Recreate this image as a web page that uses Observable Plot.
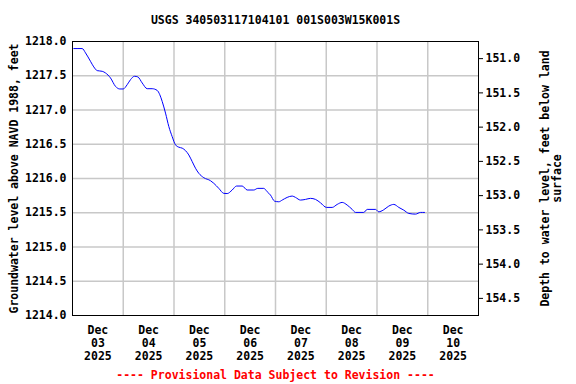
<!DOCTYPE html>
<html><head><meta charset="utf-8">
<script src="https://cdn.jsdelivr.net/npm/d3@7"></script>
<script src="https://cdn.jsdelivr.net/npm/@observablehq/plot@0.6"></script>
<style>body{margin:0;background:#fff}</style>
</head><body><div id="chart"></div>
<script>
const titleText = "USGS 340503117104101 001S003W15K001S";
const captionText = "---- Provisional Data Subject to Revision ----";
const leftLabel = "Groundwater level above NAVD 1988, feet";
const rightLabel = "Depth to water level, feet below land\nsurface";

const times = [
  "2025-12-03T00:37Z","2025-12-03T04:35Z","2025-12-03T06:09Z","2025-12-03T08:30Z","2025-12-03T10:04Z",
  "2025-12-03T11:41Z","2025-12-03T14:03Z","2025-12-03T15:36Z","2025-12-03T17:58Z","2025-12-03T20:20Z",
  "2025-12-03T22:22Z","2025-12-03T23:59Z","2025-12-04T01:52Z","2025-12-04T03:26Z","2025-12-04T05:19Z",
  "2025-12-04T06:53Z","2025-12-04T08:57Z","2025-12-04T11:19Z","2025-12-04T13:41Z","2025-12-04T16:03Z",
  "2025-12-04T17:17Z","2025-12-04T18:25Z","2025-12-04T19:59Z","2025-12-04T21:33Z","2025-12-04T23:08Z",
  "2025-12-05T00:43Z","2025-12-05T02:17Z","2025-12-05T03:53Z","2025-12-05T05:26Z","2025-12-05T07:00Z",
  "2025-12-05T08:37Z","2025-12-05T10:10Z","2025-12-05T11:44Z","2025-12-05T14:05Z","2025-12-05T17:15Z",
  "2025-12-05T18:49Z","2025-12-05T21:11Z","2025-12-05T23:33Z","2025-12-06T01:09Z","2025-12-06T03:31Z",
  "2025-12-06T05:34Z","2025-12-06T08:15Z","2025-12-06T10:37Z","2025-12-06T13:44Z","2025-12-06T15:37Z",
  "2025-12-06T18:27Z","2025-12-06T20:04Z","2025-12-06T21:38Z","2025-12-06T23:31Z","2025-12-07T01:34Z",
  "2025-12-07T03:10Z","2025-12-07T05:31Z","2025-12-07T07:54Z","2025-12-07T09:27Z","2025-12-07T11:50Z",
  "2025-12-07T14:11Z","2025-12-07T16:33Z","2025-12-07T18:55Z","2025-12-07T21:17Z","2025-12-08T00:07Z",
  "2025-12-08T02:49Z","2025-12-08T05:11Z","2025-12-08T07:32Z","2025-12-08T09:54Z","2025-12-08T12:16Z",
  "2025-12-08T13:50Z","2025-12-08T17:45Z","2025-12-08T19:22Z","2025-12-08T23:17Z","2025-12-09T00:50Z",
  "2025-12-09T02:56Z","2025-12-09T05:34Z","2025-12-09T07:57Z","2025-12-09T10:19Z","2025-12-09T12:40Z",
  "2025-12-09T15:03Z","2025-12-09T18:13Z","2025-12-09T20:34Z","2025-12-09T22:28Z"
];
const levels = [
  1217.897,1217.897,1217.834,1217.711,1217.629,
  1217.575,1217.565,1217.541,1217.468,1217.345,
  1217.307,1217.307,1217.370,1217.443,1217.492,
  1217.483,1217.395,1217.311,1217.311,1217.286,
  1217.223,1217.125,1216.955,1216.759,1216.612,
  1216.491,1216.457,1216.443,1216.407,1216.344,
  1216.246,1216.150,1216.076,1216.012,1215.968,
  1215.930,1215.856,1215.783,1215.780,1215.832,
  1215.890,1215.890,1215.832,1215.832,1215.856,
  1215.856,1215.807,1215.758,1215.670,1215.660,
  1215.685,1215.724,1215.744,1215.724,1215.685,
  1215.695,1215.710,1215.695,1215.645,1215.578,
  1215.578,1215.622,1215.651,1215.612,1215.549,
  1215.505,1215.505,1215.549,1215.549,1215.514,
  1215.538,1215.597,1215.622,1215.578,1215.538,
  1215.490,1215.480,1215.505,1215.505
];
const landSurface = 1368.75;
const levelTicks = [1214.0,1214.5,1215.0,1215.5,1216.0,1216.5,1217.0,1217.5,1218.0];
const depthTicks = [151.0,151.5,152.0,152.5,153.0,153.5,154.0,154.5];
const dayLabels = ["2025-12-03T12:00Z","2025-12-04T12:00Z","2025-12-05T12:00Z","2025-12-06T12:00Z",
                   "2025-12-07T12:00Z","2025-12-08T12:00Z","2025-12-09T12:00Z","2025-12-10T12:00Z"];
const gridDays = ["2025-12-04T00:00Z","2025-12-05T00:00Z","2025-12-06T00:00Z","2025-12-07T00:00Z",
                  "2025-12-08T00:00Z","2025-12-09T00:00Z","2025-12-10T00:00Z"];
const xDomain = ["2025-12-03T00:00Z","2025-12-11T00:00Z"];

const data = times.map((t, i) => ({date: new Date(t), level: levels[i]}));
const fmtDay = d3.utcFormat("%b\n%d\n%Y");

const chart = Plot.plot({
  width: 576,
  height: 384,
  marginLeft: 72,
  marginRight: 98,
  marginTop: 41,
  marginBottom: 69,
  style: {fontFamily: "'DejaVu Sans Mono', monospace", fontSize: "11.5px", fontWeight: "bold", color: "black", background: "white"},
  x: {type: "utc", domain: xDomain.map(d => new Date(d))},
  y: {domain: [1214, 1218]},
  marks: [
    Plot.ruleX(gridDays.map(d => new Date(d)), {stroke: "#c8c8c8", strokeWidth: 1.5}),
    Plot.ruleY(levelTicks.slice(1, -1), {stroke: "#c8c8c8", strokeWidth: 1.5}),
    Plot.axisX({ticks: dayLabels.map(d => new Date(d)), tickFormat: fmtDay, tickSize: 0, tickPadding: 9, label: null, lineHeight: 1.15}),
    Plot.axisY({ticks: levelTicks, tickFormat: d3.format(".1f"), tickSize: 0, tickPadding: 6, label: null}),
    Plot.axisY({anchor: "right", ticks: depthTicks.map(d => landSurface - d), tickFormat: v => d3.format(".1f")(landSurface - v), tickSize: 4, tickPadding: 3, label: null}),
    Plot.line(data, {x: "date", y: "level", stroke: "#0000ff", strokeWidth: 1, curve: "monotone-x"}),
    Plot.frame({stroke: "black", strokeWidth: 1}),
    Plot.text([titleText], {frameAnchor: "top", dy: -26, fontSize: 11.5}),
    Plot.text([captionText], {frameAnchor: "bottom", dy: 63, fill: "#ff0000", fontSize: 11.5}),
    Plot.text([leftLabel], {frameAnchor: "left", dx: -58, rotate: -90, textAnchor: "middle", fontSize: 11.5}),
    Plot.text([rightLabel], {frameAnchor: "right", dx: 73, rotate: -90, textAnchor: "middle", fontSize: 11.5, lineHeight: 1.05})
  ]
});
document.getElementById("chart").appendChild(chart);
</script>
</body></html>
